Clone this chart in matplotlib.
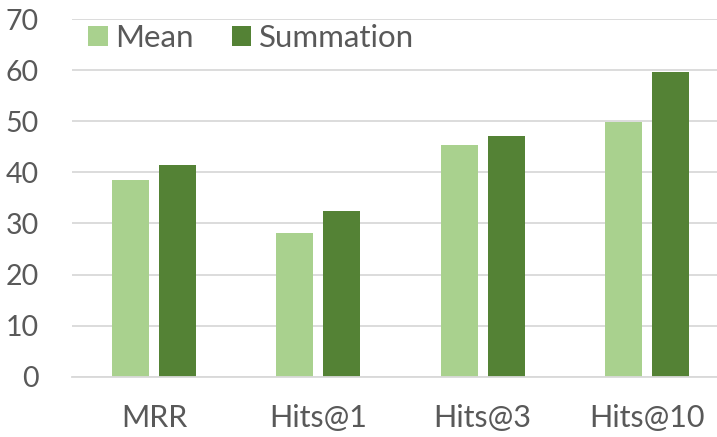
import matplotlib
matplotlib.use("Agg")
import matplotlib.pyplot as plt
import numpy as np

categories = ["MRR", "Hits@1", "Hits@3", "Hits@10"]
mean_vals = [38.5, 28.1, 45.4, 49.9]
sum_vals = [41.5, 32.4, 47.2, 59.7]
series_names = ["Mean", "Summation"]
yticks = [0, 10, 20, 30, 40, 50, 60, 70]

plt.rcParams['font.family'] = ['Lato', 'DejaVu Sans']

W, H = 717, 437
fig = plt.figure(figsize=(W / 100, H / 100), dpi=100)
left_px, right_px = 72, 717
bottom_px, top_px = 376.5, 19.5
ax = fig.add_axes([left_px / W, 1 - bottom_px / H, (right_px - left_px) / W, (bottom_px - top_px) / H])

x = np.arange(len(categories))
bw = 0.225
off = 0.143
ax.bar(x - off, mean_vals, bw, color="#A9D18E", label=series_names[0], zorder=3)
ax.bar(x + off, sum_vals, bw, color="#548235", label=series_names[1], zorder=3)

spacing_px = 164.3
ax.set_xlim(-0.5, -0.5 + (right_px - left_px) / spacing_px)
ax.set_ylim(0, 70)
ax.set_yticks(yticks)
ax.set_xticks(x)
ax.set_xticklabels(categories)

for s in ["top", "right", "left"]:
    ax.spines[s].set_visible(False)
ax.spines["bottom"].set_color("#D9D9D9")
ax.spines["bottom"].set_linewidth(1.3)
ax.spines["bottom"].set_zorder(4)

ax.yaxis.grid(True, color="#D9D9D9", linewidth=1.3, zorder=0)
ax.set_axisbelow(True)
ax.tick_params(axis="both", length=0, colors="#595959")
ax.tick_params(axis="y", pad=24, labelsize=20.5)
ax.tick_params(axis="x", pad=20, labelsize=22)

leg = ax.legend(loc="upper left", bbox_to_anchor=(88 / W, 1 - 24 / H), bbox_transform=fig.transFigure,
                ncol=2, frameon=False, fontsize=22.5, handlelength=0.63, handleheight=0.63,
                handletextpad=0.25, columnspacing=1.2, borderaxespad=0, borderpad=0)
for t in leg.get_texts():
    t.set_color("#595959")

fig.savefig("out.png", dpi=100)
